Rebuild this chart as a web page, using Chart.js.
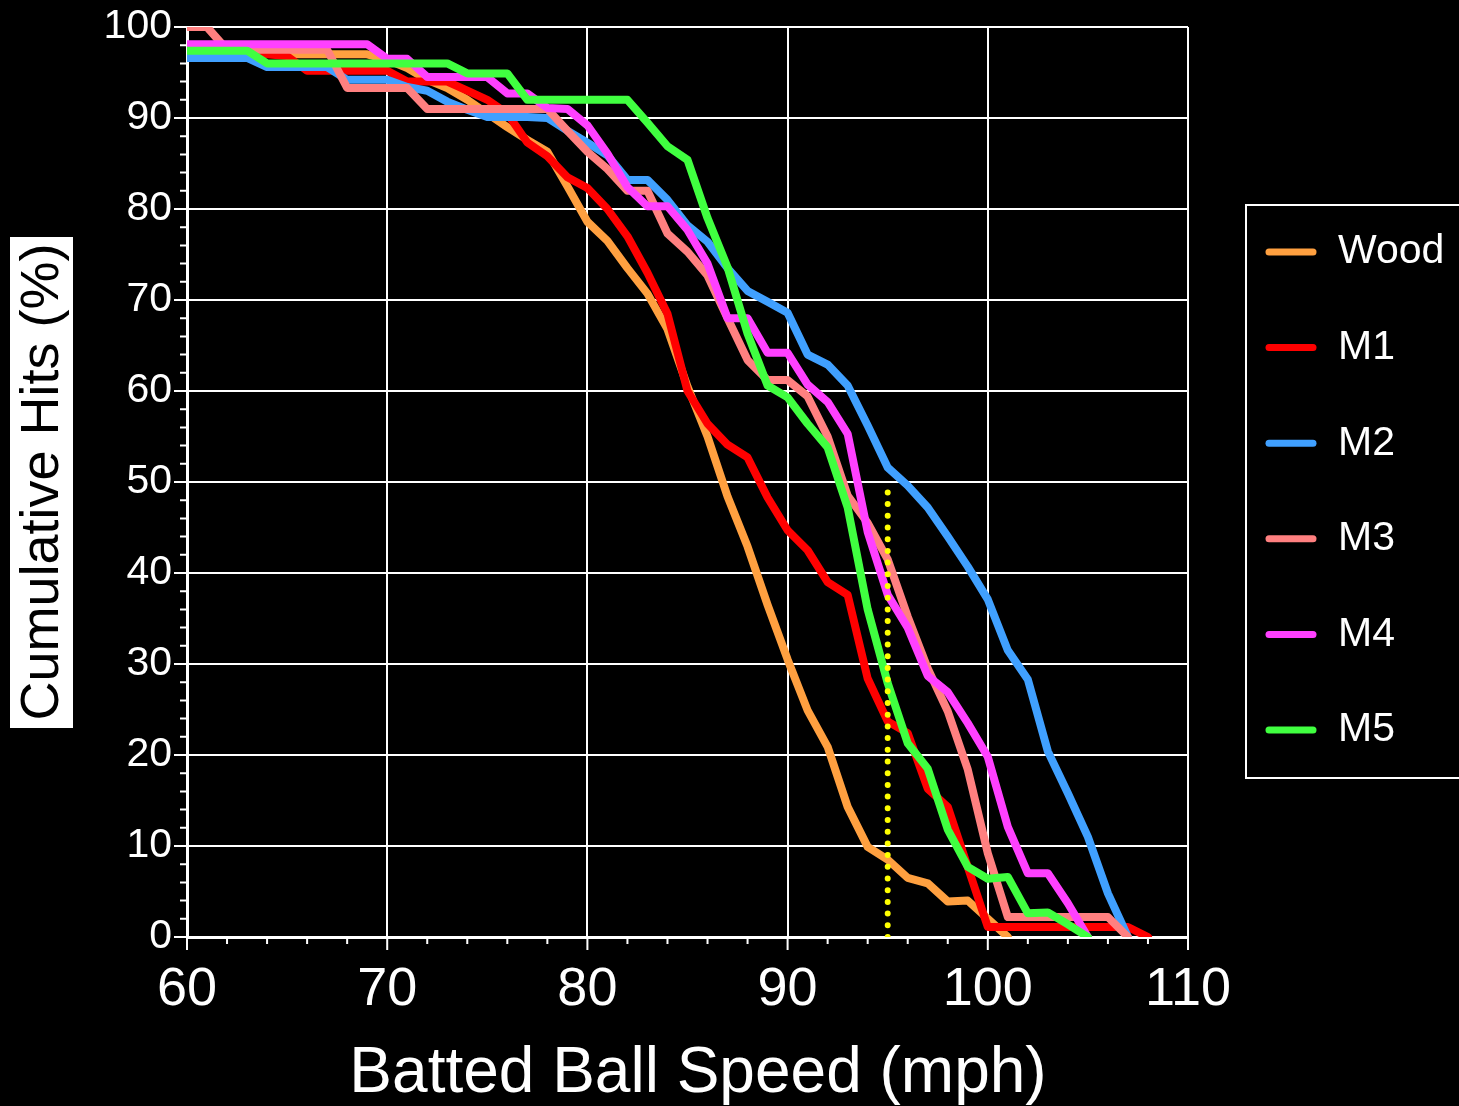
<!DOCTYPE html>
<html>
<head>
<meta charset="utf-8">
<script src="https://cdn.jsdelivr.net/npm/chart.js@4.4.1/dist/chart.umd.min.js"></script>
<style>
  html, body { margin: 0; padding: 0; background: #000; }
  #contenedor { width: 1459px; height: 1106px; position: relative; }
</style>
</head>
<body>
<div id="contenedor"><canvas id="grafica"></canvas></div>
<script>
// Velocidad (mph) y porcentaje acumulado de golpes por bate
const speeds = [60, 61, 62, 63, 64, 65, 66, 67, 68, 69, 70, 71, 72, 73, 74, 75, 76, 77, 78, 79,
  80, 81, 82, 83, 84, 85, 86, 87, 88, 89, 90, 91, 92, 93, 94, 95, 96, 97, 98, 99,
  100, 101, 102, 103, 104, 105, 106, 107, 108];

const wood = [98, 98, 98, 98, 98, 97, 97, 97, 97, 97, 96.4, 95.5, 94.2, 93.3, 92, 90.5, 89, 87.6, 86.3, 82.5,
  78.6, 76.5, 73.5, 70.7, 66.8, 60.5, 55, 48.4, 42.9, 36.5, 30.5, 24.9, 20.9, 14.3, 9.9, 8.5, 6.5, 5.9, 3.9, 4.0,
  2.0, 0];
const m1 = [97, 97, 97, 97, 97, 96.8, 95.2, 95.2, 95.2, 95.2, 95.2, 94, 94, 94, 93, 92, 90.5, 87.3, 85.8, 83.5,
  82.3, 80, 77, 73, 68.5, 60, 56.4, 54.1, 52.7, 48.3, 44.7, 42.5, 39, 37.6, 28.4, 23.7, 22.4, 16.3, 14.3, 7.7,
  1.1, 1.1, 1.1, 1.1, 1.1, 1.1, 1.1, 1.1, 0];
const m2 = [96.6, 96.6, 96.6, 96.6, 95.6, 95.6, 95.6, 95.6, 94.2, 94.2, 94.2, 93.4, 93.0, 91.8, 90.9, 90.1, 90.1, 90.1, 90.0, 88.6,
  87.3, 85.9, 83.2, 83.2, 81.0, 78.2, 76.4, 73.5, 71, 69.8, 68.6, 64, 62.9, 60.6, 56.2, 51.6, 49.6, 47.2, 44, 40.7,
  37.1, 31.5, 28.3, 20.4, 15.8, 11, 4.8, 0];
const m3 = [100, 100, 97.5, 97.5, 97.5, 97.5, 97.5, 97.5, 93.3, 93.3, 93.3, 93.3, 91, 91, 91, 91, 91, 91, 91, 88.6,
  86.3, 84.4, 82, 82, 77.3, 75.3, 72.7, 68, 63.4, 61.2, 61.2, 59.4, 55, 48.5, 45.5, 41.5, 35.2, 29.5, 24.8, 18.4,
  9.2, 2.2, 2.2, 2.2, 2.2, 2.2, 2.2, 0];
const m4 = [98.1, 98.1, 98.1, 98.1, 98.1, 98.1, 98.1, 98.1, 98.1, 98.1, 96.5, 96.5, 94.5, 94.5, 94.5, 94.5, 92.7, 92.7, 91.1, 91.0,
  89.2, 86.1, 82.4, 80.3, 80.3, 77.7, 74, 68, 68, 64.2, 64.2, 60.7, 58.8, 55.3, 44.5, 37.6, 34, 28.7, 26.9, 23.5,
  19.8, 12.1, 7, 7, 3.7, 0];
const m5 = [97.4, 97.4, 97.4, 97.4, 96.0, 96.0, 96.0, 96.0, 96.0, 96.0, 96.0, 96.0, 96.0, 96.0, 94.9, 94.9, 94.9, 92.0, 92.0, 92.0,
  92.0, 92.0, 92.0, 89.5, 86.9, 85.4, 79, 73.6, 66.3, 60.6, 59.3, 56.4, 53.8, 47.2, 36, 27.9, 21.3, 18.5, 11.8, 7.7,
  6.4, 6.6, 2.6, 2.7, 1.4, 0];

// Linea de referencia punteada
const refX = [95, 95];
const refY = [0, 50];

const nombres = ['Wood', 'M1', 'M2', 'M3', 'M4', 'M5'];
const colores = ['#FFA040', '#FF0000', '#40A0FF', '#FF8080', '#FF40FF', '#40FF40'];
const series = [wood, m1, m2, m3, m4, m5];

const fuente = '"Liberation Sans", Arial, sans-serif';

function puntos(xs, ys) {
  return ys.map((v, i) => ({ x: xs[i], y: v }));
}

const datasets = series.map((s, i) => ({
  label: nombres[i],
  data: puntos(speeds, s),
  borderColor: colores[i],
  borderWidth: 8,
  borderCapStyle: 'round',
  borderJoinStyle: 'round',
  pointRadius: 0,
  tension: 0,
  order: 10 - i
}));

datasets.push({
  label: 'ref',
  data: puntos(refX, refY),
  borderColor: '#FFFF00',
  borderWidth: 6,
  borderDash: [0, 11.7],
  borderCapStyle: 'round',
  pointRadius: 0,
  order: 0
});

// Marcas mayores y menores de los ejes
const marcas = {
  id: 'marcas',
  afterDraw(chart) {
    const ctx = chart.ctx;
    const ejeX = chart.scales.x, ejeY = chart.scales.y;
    ctx.save();
    ctx.strokeStyle = '#fff';
    ctx.lineWidth = 2;
    ctx.beginPath();
    ejeY.ticks.forEach(t => {
      const y = ejeY.getPixelForValue(t.value);
      const largo = t.value % 10 === 0 ? 13 : 7;
      ctx.moveTo(ejeY.right - largo, y);
      ctx.lineTo(ejeY.right, y);
    });
    ejeX.ticks.forEach(t => {
      const x = ejeX.getPixelForValue(t.value);
      const largo = t.value % 10 === 0 ? 13 : 7;
      ctx.moveTo(x, ejeX.top);
      ctx.lineTo(x, ejeX.top + largo);
    });
    ctx.stroke();
    ctx.restore();
  }
};

// Titulos de ejes y leyenda con recuadro
const extras = {
  id: 'extras',
  afterDraw(chart) {
    const ctx = chart.ctx;
    ctx.save();

    // titulo eje y: caja blanca con texto negro
    ctx.fillStyle = '#fff';
    ctx.fillRect(10, 237, 63, 491);
    ctx.translate(43, 482);
    ctx.rotate(-Math.PI / 2);
    ctx.fillStyle = '#000';
    ctx.font = '54px ' + fuente;
    ctx.textAlign = 'center';
    ctx.textBaseline = 'middle';
    ctx.fillText('Cumulative Hits (%)', 0, 0);
    ctx.setTransform(1, 0, 0, 1, 0, 0);

    // titulo eje x
    ctx.fillStyle = '#fff';
    ctx.font = '64px ' + fuente;
    ctx.textAlign = 'center';
    ctx.textBaseline = 'alphabetic';
    ctx.fillText('Batted Ball Speed (mph)', 698, 1092);

    // leyenda
    ctx.strokeStyle = '#fff';
    ctx.lineWidth = 2;
    ctx.strokeRect(1246, 205, 260, 573);
    ctx.font = '41px ' + fuente;
    ctx.textAlign = 'left';
    ctx.textBaseline = 'middle';
    ctx.lineCap = 'round';
    chart.data.datasets.filter(d => d.label !== 'ref').forEach((d, i) => {
      const y = 252 + i * 95.6;
      ctx.strokeStyle = d.borderColor;
      ctx.lineWidth = 7;
      ctx.beginPath();
      ctx.moveTo(1269, y);
      ctx.lineTo(1313, y);
      ctx.stroke();
      ctx.fillStyle = '#fff';
      ctx.fillText(d.label, 1338, y);
    });
    ctx.restore();
  }
};

Chart.defaults.font.family = fuente;
Chart.defaults.color = '#fff';

const grilla = c => (c.tick && c.tick.value % 10 === 0) ? '#fff' : 'rgba(0,0,0,0)';

new Chart(document.getElementById('grafica'), {
  type: 'line',
  data: { datasets: datasets },
  options: {
    responsive: true,
    maintainAspectRatio: false,
    animation: false,
    layout: { padding: { left: 0, right: 271, top: 27, bottom: 0 } },
    plugins: {
      legend: { display: false },
      tooltip: { enabled: false }
    },
    scales: {
      x: {
        type: 'linear',
        min: 60,
        max: 110,
        afterFit: s => { s.height = 169; },
        ticks: {
          stepSize: 2,
          autoSkip: false,
          maxRotation: 0,
          padding: 21,
          color: '#fff',
          font: { size: 54 },
          callback: v => v % 10 === 0 ? v : ''
        },
        grid: { color: grilla, lineWidth: 2, drawTicks: false },
        border: { display: true, color: '#fff', width: 3 }
      },
      y: {
        min: 0,
        max: 100,
        afterFit: s => { s.width = 187; s.paddingTop = 0; s.paddingBottom = 0; },
        ticks: {
          stepSize: 2,
          autoSkip: false,
          padding: 15,
          color: '#fff',
          font: { size: 41, lineHeight: 0.5 },
          callback: v => v % 10 === 0 ? v : ''
        },
        grid: { color: grilla, lineWidth: 2, drawTicks: false },
        border: { display: true, color: '#fff', width: 3 }
      }
    }
  },
  plugins: [marcas, extras]
});
</script>
</body>
</html>
